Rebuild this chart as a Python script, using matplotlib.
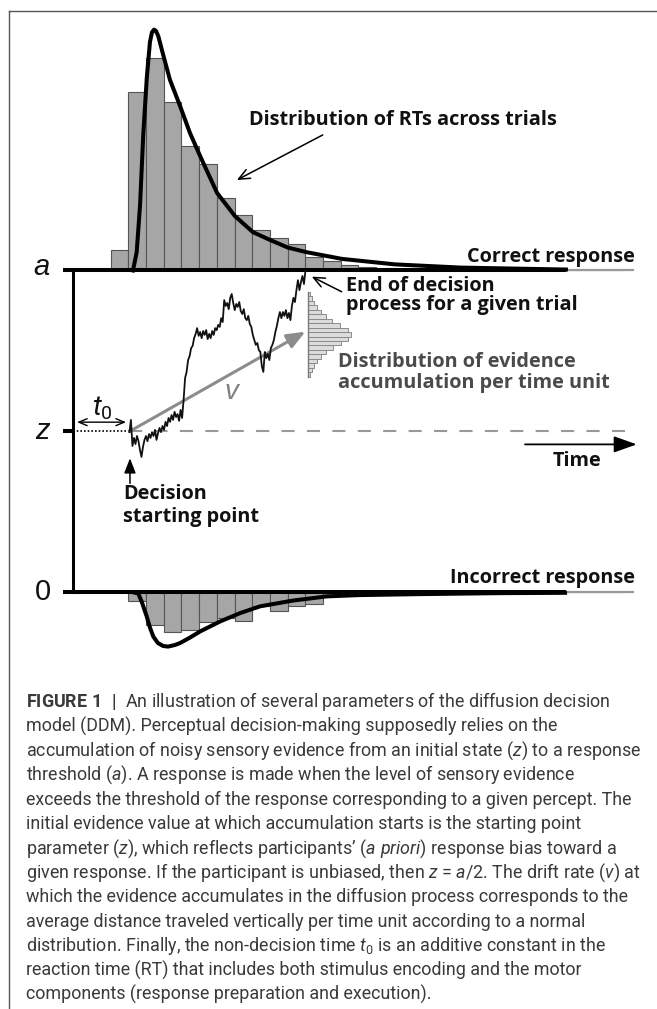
"""Diffusion decision model (DDM) schematic with caption."""
import numpy as np
import matplotlib
matplotlib.use("Agg")
import matplotlib.pyplot as plt
from matplotlib.lines import Line2D

# units: time in s, evidence in units of the upper threshold a
A_LEVEL = 1.0
Z_LEVEL = 0.5
T0 = 0.316

# RT histograms (bin width 0.1 s), bar heights in evidence units
rt_bin_start = 0.21
rt_bin_width = 0.1
rt_correct = [0.065, 0.553, 0.661, 0.522, 0.388, 0.332, 0.224, 0.171, 0.127, 0.102,
              0.081, 0.042, 0.028, 0.017, 0.012, 0.009, 0.006, 0.005, 0.004, 0.003,
              0.003, 0.002, 0.002, 0.002, 0.001, 0.001, 0.001, 0.001, 0.001]
rt_incorrect = [0.0, 0.026, 0.100, 0.122, 0.115, 0.092, 0.080, 0.088, 0.042, 0.059,
                0.042, 0.036, 0.010, 0.005, 0.003, 0.002, 0.002, 0.001, 0.001, 0.001,
                0.001, 0.0, 0.0, 0.0, 0.0, 0.0, 0.0, 0.0, 0.0]

# fitted RT densities (height above a / depth below 0)
correct_t = [0.336, 0.357, 0.376, 0.394, 0.414, 0.432, 0.4435, 0.455, 0.466, 0.479,
             0.507, 0.545, 0.602, 0.658, 0.715, 0.811, 0.912, 1.014, 1.110, 1.212,
             1.316, 1.517, 1.816, 2.189, 2.782]
correct_h = [0.0, 0.057, 0.203, 0.421, 0.598, 0.710, 0.740, 0.748, 0.744, 0.728,
             0.669, 0.592, 0.511, 0.427, 0.356, 0.241, 0.169, 0.119, 0.095, 0.071,
             0.057, 0.036, 0.019, 0.009, 0.003]
incorrect_t = [0.342, 0.366, 0.387, 0.414, 0.432, 0.451, 0.477, 0.506, 0.534, 0.573,
               0.602, 0.658, 0.715, 0.828, 0.941, 1.054, 1.240, 1.432, 1.619, 1.958,
               2.410, 2.777]
incorrect_d = [0.0, 0.003, 0.031, 0.075, 0.109, 0.137, 0.157, 0.166, 0.168, 0.163,
               0.157, 0.140, 0.121, 0.090, 0.064, 0.043, 0.025, 0.012, 0.008, 0.005,
               0.002, 0.001]

# one simulated trial, sampled every walk_dt from T0
walk_dt = 0.0085
walk = [0.498, 0.536, 0.455, 0.480, 0.461, 0.486, 0.470, 0.443, 0.421, 0.452,
        0.474, 0.486, 0.470, 0.492, 0.480, 0.498, 0.486, 0.505, 0.474, 0.495,
        0.511, 0.498, 0.517, 0.505, 0.530, 0.517, 0.542, 0.530, 0.551, 0.536,
        0.561, 0.545, 0.554, 0.533, 0.567, 0.542, 0.598, 0.666, 0.685, 0.722,
        0.734, 0.759, 0.766, 0.790, 0.803, 0.821, 0.797, 0.809, 0.790, 0.812,
        0.800, 0.815, 0.787, 0.803, 0.790, 0.812, 0.800, 0.821, 0.815, 0.831,
        0.825, 0.852, 0.840, 0.908, 0.890, 0.899, 0.880, 0.915, 0.927, 0.899,
        0.877, 0.896, 0.887, 0.902, 0.874, 0.865, 0.880, 0.852, 0.846, 0.859,
        0.834, 0.825, 0.800, 0.784, 0.769, 0.775, 0.753, 0.747, 0.703, 0.685,
        0.747, 0.728, 0.741, 0.722, 0.759, 0.769, 0.784, 0.809, 0.828, 0.852,
        0.871, 0.852, 0.871, 0.859, 0.877, 0.852, 0.868, 0.846, 0.890, 0.915,
        0.902, 0.939, 0.970, 0.939, 0.964, 0.983, 0.958, 1.000]

# drift arrow end point (time, evidence)
drift_end = (1.31, 0.81)

# per-step evidence distribution (sideways histogram)
step_top = 0.934
step_bin = 0.0139
step_counts = [2, 4, 6, 9, 13, 18, 24, 32, 40, 43, 40, 33, 25, 18, 13, 9, 6, 4, 2]
step_scale = 1 / 177.0

caption = [
    r"$\mathbf{FIGURE\ 1\ \ |}$  An illustration of several parameters of the diffusion decision",
    "model (DDM). Perceptual decision-making supposedly relies on the",
    r"accumulation of noisy sensory evidence from an initial state ($\mathit{z}$) to a response",
    r"threshold ($\mathit{a}$). A response is made when the level of sensory evidence",
    "exceeds the threshold of the response corresponding to a given percept. The",
    "initial evidence value at which accumulation starts is the starting point",
    r"parameter ($\mathit{z}$), which reflects participants’ ($\mathit{a\ priori}$) response bias toward a",
    r"given response. If the participant is unbiased, then $\mathit{z}$ = $\mathit{a}$/2. The drift rate ($\mathit{v}$) at",
    "which the evidence accumulates in the diffusion process corresponds to the",
    "average distance traveled vertically per time unit according to a normal",
    r"distribution. Finally, the non-decision time $\mathit{t}_0$ is an additive constant in the",
    "reaction time (RT) that includes both stimulus encoding and the motor",
    "components (response preparation and execution).",
]

plt.rcParams["mathtext.fontset"] = "custom"
plt.rcParams["mathtext.rm"] = "Roboto"
plt.rcParams["mathtext.it"] = "Roboto:italic"
plt.rcParams["mathtext.bf"] = "Roboto:bold"

W, H = 657, 1009
fig = plt.figure(figsize=(W / 100, H / 100), dpi=100)
ax = fig.add_axes([0, 0, 1, 1])
ax.set_xlim(-0.41525, 3.29661)
ax.set_ylim(-1.29348, 1.84006)
ax.axis("off")

BAR_FC, BAR_EC = "#a6a6a6", "#555555"
LBL = dict(family="Open Sans", weight="bold", fontsize=14.3, color="#111111")

# histograms
n = len(rt_correct)
edges = rt_bin_start + rt_bin_width * np.arange(n)
ax.bar(edges, rt_correct, width=rt_bin_width, bottom=A_LEVEL, align="edge",
       color=BAR_FC, edgecolor=BAR_EC, linewidth=0.8, zorder=2)
ax.bar(edges, -np.array(rt_incorrect), width=rt_bin_width, bottom=0, align="edge",
       color=BAR_FC, edgecolor=BAR_EC, linewidth=0.8, zorder=2)

# baselines: gray bar base, then thick black threshold lines
for lvl in (A_LEVEL, 0):
    ax.plot([rt_bin_start, 3.161], [lvl, lvl], color="#999999", lw=1.6, zorder=3)
    ax.plot([-0.061, 2.782], [lvl, lvl], color="black", lw=2.9,
            solid_capstyle="butt", zorder=4)
ax.plot([0, 0], [0, A_LEVEL], color="black", lw=2.2, zorder=4)
ax.plot([-0.061, 0], [Z_LEVEL, Z_LEVEL], color="black", lw=2.9,
        solid_capstyle="butt", zorder=4)

# density curves
ax.plot(correct_t, A_LEVEL + np.array(correct_h), color="black", lw=2.9,
        solid_joinstyle="round", zorder=5)
ax.plot(incorrect_t, -np.array(incorrect_d), color="black", lw=2.9,
        solid_joinstyle="round", zorder=5)

# starting point lines
ax.plot([0, T0], [Z_LEVEL, Z_LEVEL], color="black", lw=1.2, ls=(0, (1, 1.2)), zorder=3)
ax.plot([T0, 3.144], [Z_LEVEL, Z_LEVEL], color="#999999", lw=1.5,
        ls=(0, (6.3, 5.9)), zorder=3)

# random walk
walk_t = T0 + walk_dt * np.arange(len(walk))
ax.plot(walk_t, walk, color="#111111", lw=1.3, zorder=6)

# drift arrow
ax.annotate("", xy=drift_end, xytext=(T0, Z_LEVEL),
            arrowprops=dict(arrowstyle="-|>,head_length=1.1,head_width=0.45",
                            mutation_scale=10, color="#8c8c8c", lw=2.2,
                            shrinkA=0, shrinkB=0), zorder=5)
ax.text(0.895, 0.622, "v", family="Liberation Sans", style="italic",
        fontsize=20, color="#808080", ha="center", va="center")

# sideways histogram of evidence per time unit
step_t = 1.327
for i, c in enumerate(step_counts):
    ax.bar(step_t, step_bin, width=c * step_scale, bottom=step_top - (i + 1) * step_bin,
           align="edge", color="#dcdcdc", edgecolor="#8a8a8a", linewidth=0.7, zorder=3)
ax.plot([step_t, step_t], [step_top - len(step_counts) * step_bin, step_top],
        color="#777777", lw=1.0, zorder=4)

# axis labels
AX_LBL = dict(family="Liberation Sans", fontsize=21, color="#111111",
              ha="center", va="center")
ax.text(-0.181, 1.012, "a", style="italic", **AX_LBL)
ax.text(-0.175, 0.502, "z", style="italic", **AX_LBL)
ax.text(-0.172, 0.0, "0", **AX_LBL)

# t0
ax.annotate("", xy=(0.297, 0.529), xytext=(0.02, 0.529),
            arrowprops=dict(arrowstyle="<->,head_length=0.6,head_width=0.25",
                            mutation_scale=10, color="black", lw=1.0,
                            shrinkA=0, shrinkB=0))
ax.text(0.165, 0.572, r"$t_0$", fontsize=20, color="#111111",
        ha="center", va="center")

# annotations
ax.text(1.862, 1.467, "Distribution of RTs across trials", ha="center", va="center", **LBL)
ax.annotate("", xy=(0.923, 1.281), xytext=(1.408, 1.421),
            arrowprops=dict(arrowstyle="->,head_length=0.8,head_width=0.35",
                            mutation_scale=10, color="black", lw=1.1,
                            shrinkA=0, shrinkB=0))
ax.text(3.172, 1.043, "Correct response", ha="right", va="center", **LBL)
ax.text(3.172, 0.044, "Incorrect response", ha="right", va="center", **LBL)

ax.text(1.538, 0.952, "End of decision", ha="left", va="center", **LBL)
ax.text(1.538, 0.893, "process for a given trial", ha="left", va="center", **LBL)
ax.annotate("", xy=(1.346, 0.981), xytext=(1.515, 0.934),
            arrowprops=dict(arrowstyle="->,head_length=0.8,head_width=0.35",
                            mutation_scale=10, color="black", lw=1.1,
                            shrinkA=0, shrinkB=0))

GRAY_LBL = dict(LBL, color="#4a4a4a")
ax.text(1.497, 0.717, "Distribution of evidence", ha="left", va="center", **GRAY_LBL)
ax.text(1.497, 0.650, "accumulation per time unit", ha="left", va="center", **GRAY_LBL)

ax.text(0.281, 0.305, "Decision", ha="left", va="center", **LBL)
ax.text(0.281, 0.235, "starting point", ha="left", va="center", **LBL)
ax.annotate("", xy=(0.319, 0.417), xytext=(0.319, 0.339),
            arrowprops=dict(arrowstyle="-|>,head_length=0.9,head_width=0.35",
                            mutation_scale=10, color="black", lw=1.1,
                            shrinkA=0, shrinkB=0))

ax.annotate("", xy=(3.182, 0.460), xytext=(2.551, 0.460),
            arrowprops=dict(arrowstyle="-|>,head_length=1.4,head_width=0.5",
                            mutation_scale=10, color="black", lw=1.3,
                            shrinkA=0, shrinkB=0))
ax.text(2.843, 0.408, "Time", ha="center", va="center", **LBL)

# frame (left and top)
fc = "#555555"
fig.add_artist(Line2D([9 / W, 9 / W], [0, 1 - 11 / H], color=fc, lw=1.0))
fig.add_artist(Line2D([9 / W, 1], [1 - 11 / H, 1 - 11 / H], color=fc, lw=1.0))

# caption
y0, dy = 707, 24.4
for i, line in enumerate(caption):
    fig.text(26 / W, 1 - (y0 + i * dy) / H, line, family="Roboto",
             fontsize=12.9, color="#3a3a3a", ha="left", va="baseline")

fig.savefig("out.png", dpi=100)
